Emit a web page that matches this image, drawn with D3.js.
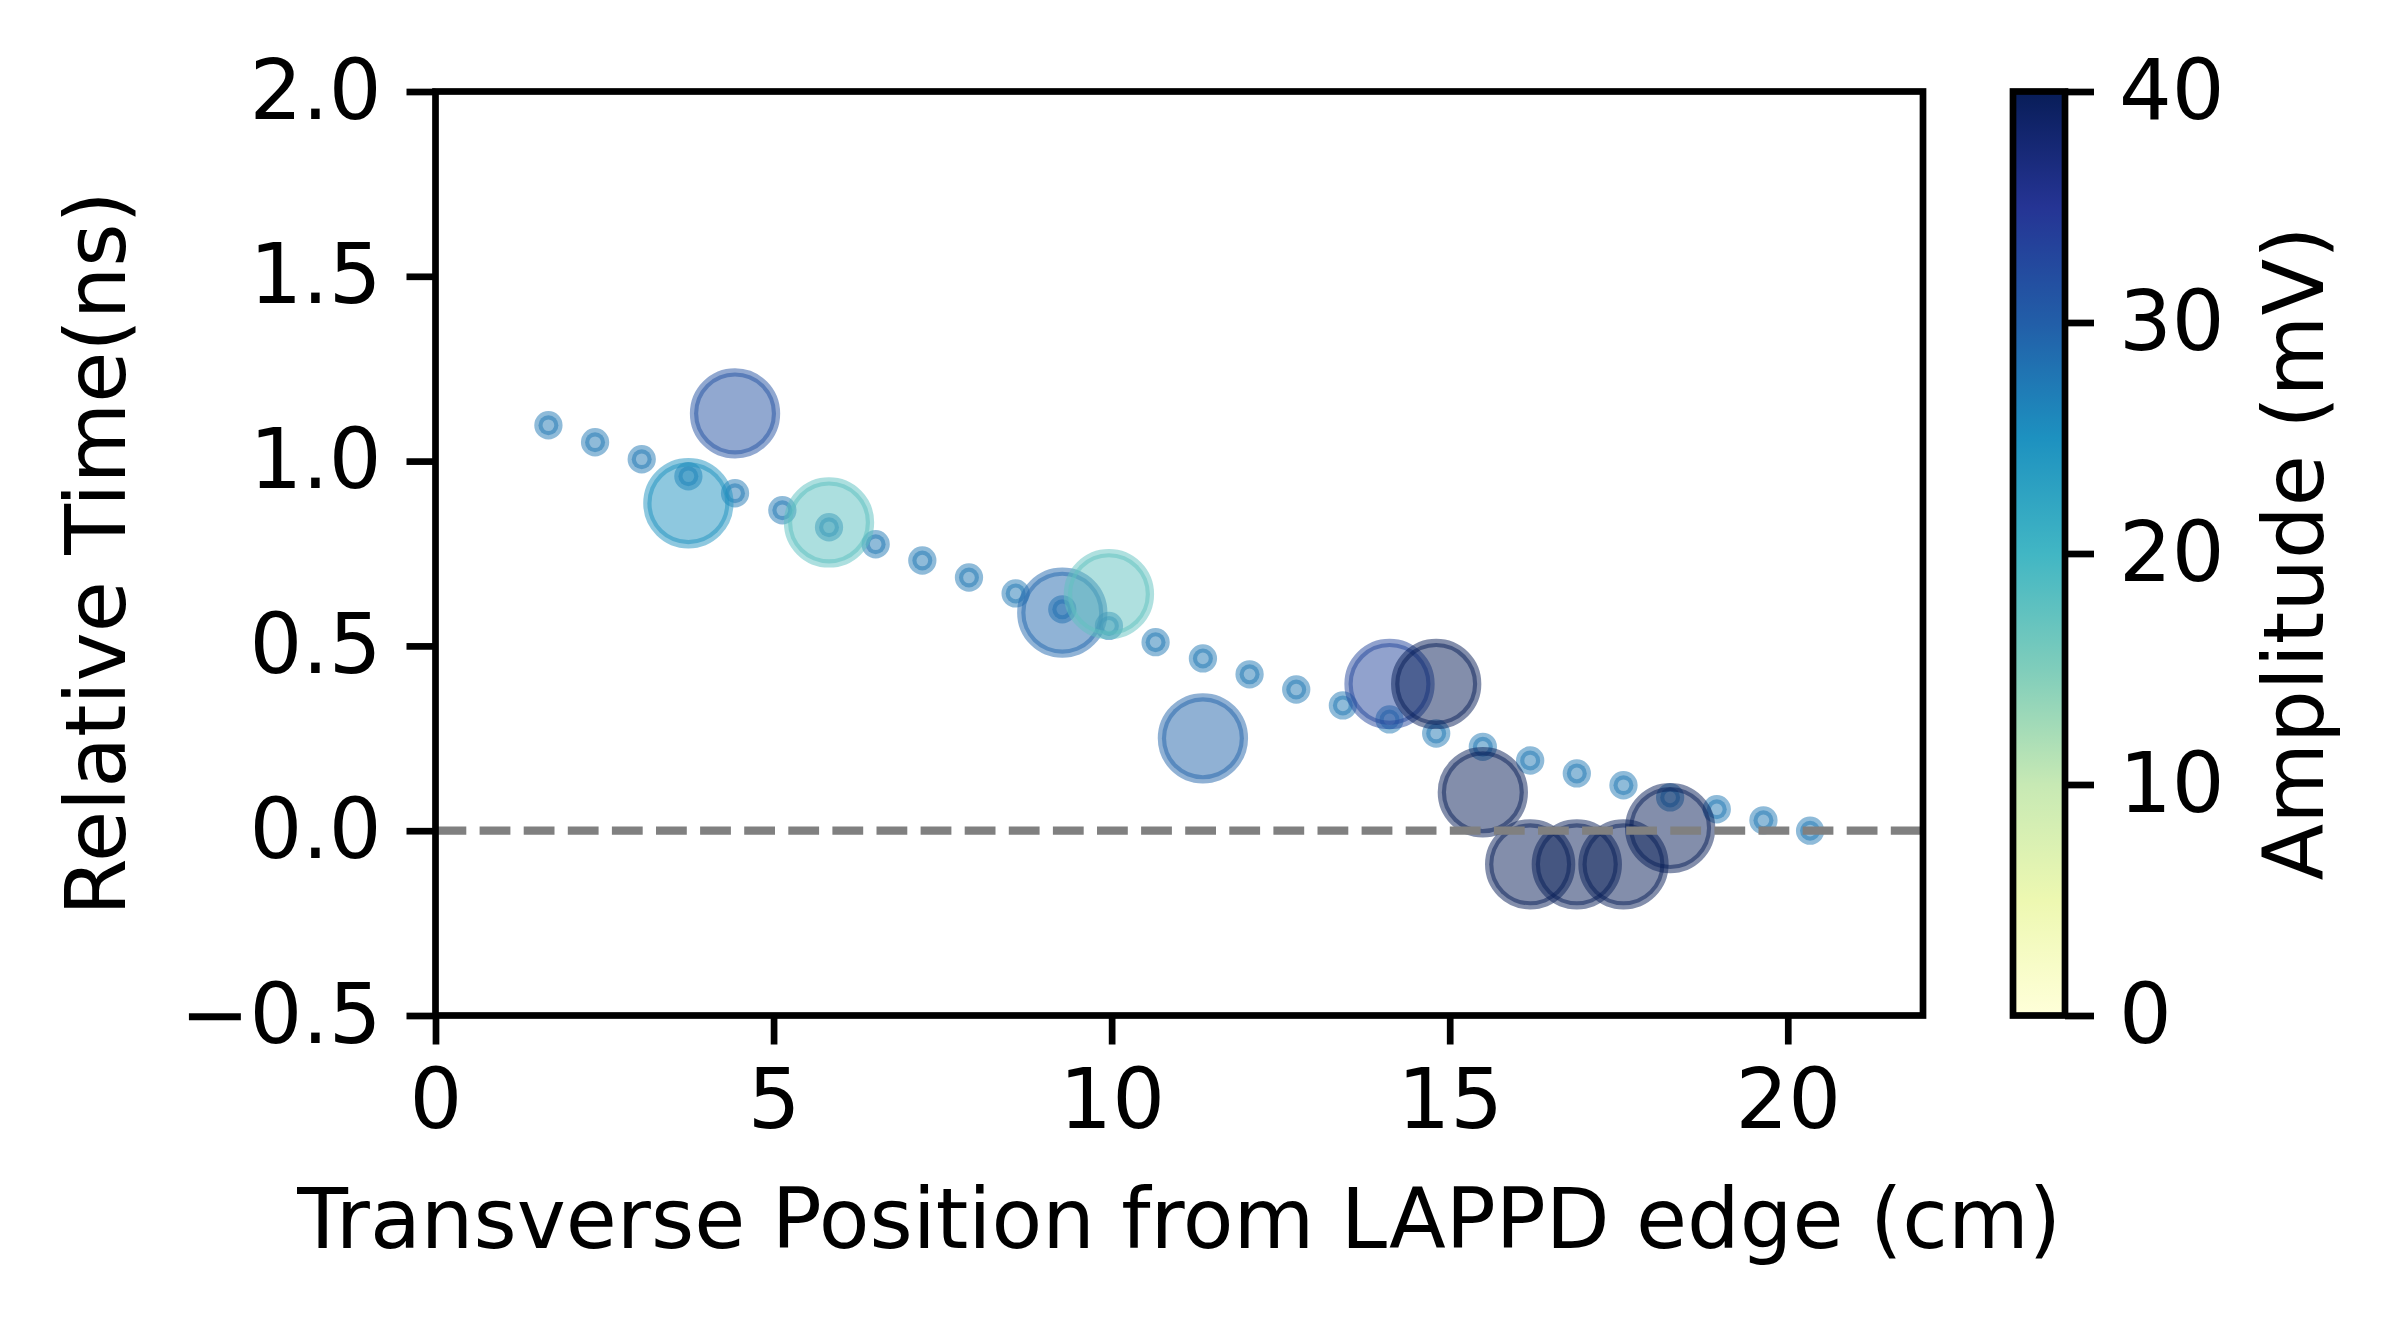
<!DOCTYPE html>
<html>
<head>
<meta charset="utf-8">
<script src="https://cdn.jsdelivr.net/npm/d3@7"></script>
<style>
  body { margin: 0; background: #ffffff; }
  text { font-family: "DejaVu Sans", sans-serif; }
</style>
</head>
<body>
<div class="layout"></div>
<script>

// predicted arrival times along the strips (small dots)
const predX = [1.67, 2.36, 3.05, 3.74, 4.43, 5.13, 5.82, 6.51, 7.20, 7.89,
  8.58, 9.27, 9.96, 10.65, 11.35, 12.04, 12.73, 13.42, 14.11, 14.80,
  15.49, 16.19, 16.88, 17.57, 18.26, 18.95, 19.64, 20.33];
const predT = [1.097, 1.051, 1.005, 0.959, 0.913, 0.867, 0.821, 0.775, 0.731, 0.685,
  0.642, 0.599, 0.554, 0.510, 0.466, 0.423, 0.382, 0.339, 0.301, 0.263,
  0.227, 0.190, 0.155, 0.123, 0.090, 0.058, 0.028, 0.000];

// measured hits (big circles), coloured by amplitude
const hitX = [4.43, 3.74, 5.82, 9.27, 9.96, 11.35, 14.11, 14.80, 15.49, 16.19, 16.88, 17.57, 18.26];
const hitT = [1.129, 0.886, 0.834, 0.590, 0.640, 0.250, 0.397, 0.397, 0.104, -0.091, -0.091, -0.091, 0.007];
const hitAmp = [31.5, 25, 18, 29, 17.5, 29.5, 33, 40, 40, 40, 40, 40, 40];

const xTicks = [0, 5, 10, 15, 20];
const yTicks = [-0.5, 0, 0.5, 1.0, 1.5, 2.0];
const cTicks = [0, 10, 20, 30, 40];

// matplotlib YlGnBu
const ylGnBu = ["#ffffd9", "#edf8b1", "#c7e9b4", "#7fcdbb", "#41b6c4",
  "#1d91c0", "#225ea8", "#253494", "#081d58"];

function makeChart() {
  var width = 2400
  var height = 1329
  var box = { left: 435.5, right: 1923, top: 91.5, bottom: 1015.5 }
  var lw = 6.7
  var tickLen = 29
  var fontSize = 83

  var svg = d3.select("div.layout")
    .append("svg")
      .attr("width", width)
      .attr("height", height)

  svg.append("rect")
    .attr("width", width)
    .attr("height", height)
    .attr("fill", "#ffffff")

  const x = d3.scaleLinear()
    .domain([0, 22])
    .range([box.left, box.right])

  const y = d3.scaleLinear()
    .domain([-0.5, 2.0])
    .range([box.bottom, box.top])

  const color = d3.scaleLinear()
    .domain(d3.range(ylGnBu.length).map(function (i) { return i * 40 / (ylGnBu.length - 1) }))
    .range(ylGnBu)
    .clamp(true)

  // small dots
  svg.append("g")
    .selectAll("circle")
    .data(predX)
    .enter()
    .append("circle")
    .attr("cx", function (d) { return x(d) })
    .attr("cy", function (d, i) { return y(predT[i]) })
    .attr("r", 10)
    .attr("fill", "#1f77b4")
    .attr("fill-opacity", 0.5)
    .attr("stroke", "#1f77b4")
    .attr("stroke-opacity", 0.5)
    .attr("stroke-width", 8.3)

  // big circles
  svg.append("g")
    .selectAll("circle")
    .data(hitX)
    .enter()
    .append("circle")
    .attr("cx", function (d) { return x(d) })
    .attr("cy", function (d, i) { return y(hitT[i]) })
    .attr("r", 41)
    .attr("fill", function (d, i) { return color(hitAmp[i]) })
    .attr("fill-opacity", 0.5)
    .attr("stroke", function (d, i) { return color(hitAmp[i]) })
    .attr("stroke-opacity", 0.5)
    .attr("stroke-width", 8.3)

  // zero line
  svg.append("line")
    .attr("x1", box.left)
    .attr("x2", box.right)
    .attr("y1", y(0))
    .attr("y2", y(0))
    .attr("stroke", "#808080")
    .attr("stroke-width", 8.3)
    .attr("stroke-dasharray", "30.8,13.3")

  // axes
  var xAxis = svg.append("g")
    .attr("transform", "translate(0," + box.bottom + ")")
    .call(d3.axisBottom(x).tickValues(xTicks).tickFormat(d3.format("d"))
      .tickSize(tickLen).tickPadding(tickLen - 4))

  var yAxis = svg.append("g")
    .attr("transform", "translate(" + box.left + ",0)")
    .call(d3.axisLeft(y).tickValues(yTicks).tickFormat(d3.format(".1f"))
      .tickSize(tickLen).tickPadding(tickLen - 4))

  styleAxis(xAxis, lw, fontSize)
  styleAxis(yAxis, lw, fontSize)

  // frame
  svg.append("rect")
    .attr("x", box.left)
    .attr("y", box.top)
    .attr("width", box.right - box.left)
    .attr("height", box.bottom - box.top)
    .attr("fill", "none")
    .attr("stroke", "#000000")
    .attr("stroke-width", lw)

  svg.append("text")
    .attr("x", (box.left + box.right) / 2)
    .attr("y", 1248)
    .attr("text-anchor", "middle")
    .attr("font-size", fontSize)
    .text("Transverse Position from LAPPD edge (cm)")

  svg.append("text")
    .attr("transform", "translate(125," + (box.top + box.bottom) / 2 + ") rotate(-90)")
    .attr("text-anchor", "middle")
    .attr("font-size", fontSize)
    .text("Relative Time(ns)")

  makeColorbar(svg, color, box, lw, tickLen, fontSize)
};

function styleAxis(axis, lw, fontSize) {
  axis.select(".domain").remove()
  axis.selectAll(".tick line")
    .attr("stroke", "#000000")
    .attr("stroke-width", lw)
  axis.selectAll(".tick text")
    .attr("fill", "#000000")
    .attr("font-size", fontSize)
    .attr("font-family", "DejaVu Sans")
};

// colour bar on the right
function makeColorbar(svg, color, box, lw, tickLen, fontSize) {
  var cb = { left: 2013, right: 2065 }

  var grad = svg.append("defs")
    .append("linearGradient")
    .attr("id", "cbGrad")
    .attr("x1", "0").attr("y1", "1")
    .attr("x2", "0").attr("y2", "0")

  grad.selectAll("stop")
    .data(ylGnBu)
    .enter()
    .append("stop")
    .attr("offset", function (d, i) { return i / (ylGnBu.length - 1) })
    .attr("stop-color", function (d) { return d })

  svg.append("rect")
    .attr("x", cb.left)
    .attr("y", box.top)
    .attr("width", cb.right - cb.left)
    .attr("height", box.bottom - box.top)
    .attr("fill", "url(#cbGrad)")

  const c = d3.scaleLinear()
    .domain([0, 40])
    .range([box.bottom, box.top])

  var cAxis = svg.append("g")
    .attr("transform", "translate(" + cb.right + ",0)")
    .call(d3.axisRight(c).tickValues(cTicks).tickFormat(d3.format("d"))
      .tickSize(tickLen).tickPadding(tickLen - 4))

  styleAxis(cAxis, lw, fontSize)

  svg.append("rect")
    .attr("x", cb.left)
    .attr("y", box.top)
    .attr("width", cb.right - cb.left)
    .attr("height", box.bottom - box.top)
    .attr("fill", "none")
    .attr("stroke", "#000000")
    .attr("stroke-width", lw)

  svg.append("text")
    .attr("transform", "translate(2323," + (box.top + box.bottom) / 2 + ") rotate(-90)")
    .attr("text-anchor", "middle")
    .attr("font-size", fontSize)
    .text("Amplitude (mV)")
};

makeChart()
</script>
</body>
</html>
